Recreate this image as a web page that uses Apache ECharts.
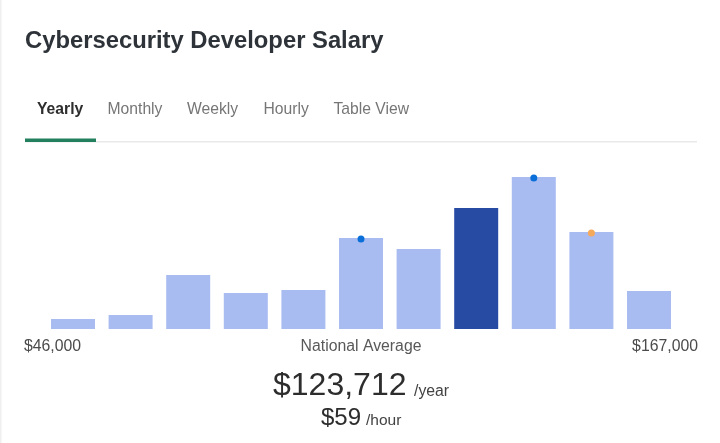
<!DOCTYPE html>
<html lang="en">
<head>
<meta charset="UTF-8">
<script src="https://cdn.jsdelivr.net/npm/echarts@6/dist/echarts.min.js"></script>
<title>Cybersecurity Developer Salary</title>
<style>
html,body{margin:0;padding:0;background:#fff;}
</style>
</head>
<body>
<div id="main" style="width:720px;height:443px;"></div>
<script type="text/javascript">
var titleText = 'Cybersecurity Developer Salary';
var tabs = ['Yearly', 'Monthly', 'Weekly', 'Hourly', 'Table View'];
var tabX = [37, 107.5, 187, 263.5, 333.5];
var bins = ['1', '2', '3', '4', '5', '6', '7', '8', '9', '10', '11'];
var counts = [10, 14, 54, 36, 39, 91, 80, 121, 152, 97, 38];
var activeBin = 7;
var blueDots = [null, null, null, null, null, 90, null, null, 151, null, null];
var orangeDots = [null, null, null, null, null, null, null, null, null, 96, null];
var minLabel = '$46,000', midLabel = 'National Average', maxLabel = '$167,000';
var yearValue = '$123,712', yearUnit = '/year', hourValue = '$59', hourUnit = '/hour';

var font = '"Liberation Sans", Arial, sans-serif';

function txt(x, y, text, size, color, align, weight) {
    return {
        type: 'text', x: x, y: y,
        style: {
            text: text, fontFamily: font, fontSize: size, fill: color,
            align: align || 'left', verticalAlign: 'middle', fontWeight: weight || 'normal'
        }
    };
}

var graphics = [
    { type: 'rect', shape: { x: 0, y: 0, width: 1.5, height: 443 }, style: { fill: '#efefef' } },
    { type: 'rect', shape: { x: 25, y: 141, width: 672, height: 1.5 }, style: { fill: '#e9e9ea' } },
    { type: 'rect', shape: { x: 25, y: 138.5, width: 71, height: 3.5 }, style: { fill: '#22805f' } },
    txt(25, 41, titleText, 23.8, '#2d3338', 'left', 'bold')
];
tabs.forEach(function (t, i) {
    graphics.push(txt(tabX[i], 109.5, t, 15.7, i === 0 ? '#2d2d2d' : '#767676', 'left', i === 0 ? 'bold' : 'normal'));
});
graphics.push(txt(24, 347, minLabel, 15.8, '#4b4b4b'));
graphics.push(txt(361, 347, midLabel, 15.8, '#595959', 'center'));
graphics.push(txt(698, 347, maxLabel, 15.8, '#4b4b4b', 'right'));
graphics.push(txt(273, 386, yearValue, 32, '#2d2d2d'));
graphics.push(txt(414, 391.5, yearUnit, 15.8, '#424242'));
graphics.push(txt(321, 418, hourValue, 24, '#2d2d2d'));
graphics.push(txt(366, 421, hourUnit, 15.5, '#424242'));

var myChart = echarts.init(document.getElementById('main'));
var option = {
    animation: false,
    backgroundColor: '#fff',
    grid: { left: 44.2, right: 42.2, top: 169, bottom: 114 },
    xAxis: {
        type: 'category', data: bins,
        axisLine: { show: false }, axisTick: { show: false }, axisLabel: { show: false }
    },
    yAxis: { type: 'value', min: 0, max: 160, show: false },
    graphic: graphics,
    series: [
        {
            type: 'bar',
            barWidth: 44,
            data: counts.map(function (v, i) {
                return { value: v, itemStyle: { color: i === activeBin ? '#274ba3' : '#a9bcf1' } };
            })
        },
        { type: 'scatter', data: blueDots, symbolSize: 7, itemStyle: { color: '#0a6fd8', opacity: 1 }, z: 5 },
        { type: 'scatter', data: orangeDots, symbolSize: 7, itemStyle: { color: '#f5a95a', opacity: 1 }, z: 5 }
    ]
};
myChart.setOption(option);
</script>
</body>
</html>
